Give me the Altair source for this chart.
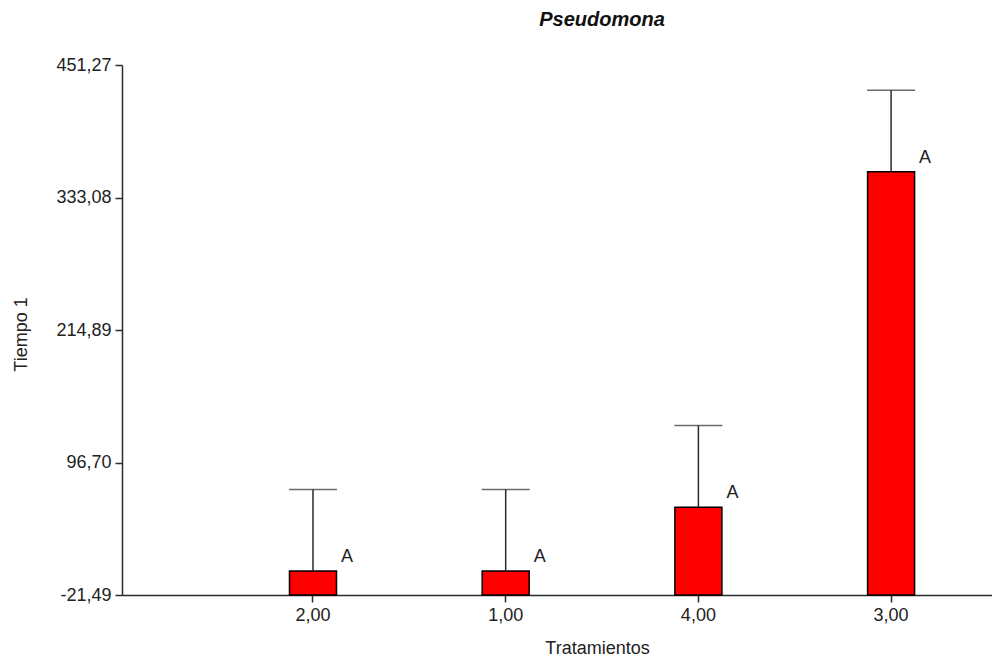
import altair as alt
import pandas as pd

# Data
tratamientos = ["2,00", "1,00", "4,00", "3,00"]
medias = [0.0, 0.0, 56.8, 356.0]
errores = [72.7, 72.7, 72.9, 72.8]
letras = ["A", "A", "A", "A"]
y_ticks = [-21.49, 96.70, 214.89, 333.08, 451.27]
y_min = -21.49
y_max = 451.27

df = pd.DataFrame({
    "trat": tratamientos,
    "media": medias,
    "err": errores,
    "letra": letras,
})
df["sup"] = df["media"] + df["err"]

FONT = "Liberation Sans"
DARK = "#2b2b2b"

x_enc = alt.X(
    "trat:N",
    sort=tratamientos,
    scale=alt.Scale(paddingInner=0, paddingOuter=0.2574, align=0.954),
    axis=alt.Axis(
        title="Tratamientos",
        labelAngle=0,
        labelFont=FONT,
        labelFontSize=18,
        labelColor="#222",
        labelPadding=4,
        tickSize=7,
        tickColor=DARK,
        tickWidth=1.5,
        domainColor=DARK,
        domainWidth=1.5,
        grid=False,
        titleFont=FONT,
        titleFontSize=18,
        titleFontWeight="normal",
        titleColor="#222",
        titleX=475,
        titleY=53,
        titleBaseline="middle",
        titleAlign="center",
    ),
)

y_scale = alt.Scale(domain=[y_min, y_max], zero=False, nice=False)
y_axis = alt.Axis(
    title="Tiempo 1",
    values=y_ticks,
    labelExpr="(datum.value < 0 ? '-' : '') + replace(format(abs(datum.value), '.2f'), '.', ',')",
    labelFont=FONT,
    labelFontSize=18,
    labelColor="#222",
    labelPadding=4,
    tickSize=7,
    tickColor=DARK,
    tickWidth=1.5,
    domainColor=DARK,
    domainWidth=1.5,
    grid=False,
    titleFont=FONT,
    titleFontSize=18,
    titleFontWeight="normal",
    titleColor="#222",
    titleAngle=-90,
    titleX=-101,
    titleY=269,
    titleBaseline="middle",
    titleAlign="center",
)

base = alt.Chart(df)

# bars from the axis minimum up to the mean
bars = base.mark_bar(size=47, color="#FF0000", stroke="black", strokeWidth=1.5).encode(
    x=x_enc,
    y=alt.Y("media:Q", scale=y_scale, axis=y_axis),
    y2=alt.datum(y_min),
)

# error bar stems (mean -> mean + se)
stems = base.mark_rule(color=DARK, strokeWidth=1.5).encode(
    x=x_enc,
    y=alt.Y("media:Q", scale=y_scale, axis=y_axis),
    y2="sup:Q",
)

# error bar caps
caps = base.mark_tick(size=48, thickness=1.5, color=DARK, orient="horizontal").encode(
    x=x_enc,
    y=alt.Y("sup:Q", scale=y_scale, axis=y_axis),
)

labels = base.mark_text(
    dx=34, dy=-14, fontSize=18, font=FONT, color="#222", baseline="middle", align="center"
).encode(
    x=x_enc,
    y=alt.Y("media:Q", scale=y_scale, axis=y_axis),
    text="letra:N",
)

chart = (
    alt.layer(bars, stems, caps, labels)
    .properties(
        width=870,
        height=530,
        background="white",
        title=alt.TitleParams(
            "Pseudomona",
            font=FONT,
            fontSize=20,
            fontWeight="bold",
            fontStyle="italic",
            color="#111",
            anchor="middle",
            baseline="middle",
            offset=16,
            dx=45,
        ),
        autosize=alt.AutoSizeParams(type="none"),
        padding={"left": 114, "top": 57, "right": 0, "bottom": 64},
    )
    .configure_view(stroke=None, strokeWidth=0)
    .configure_axis(grid=False)
)

chart.save("out.html", embed_options={"renderer": "svg", "actions": False})
